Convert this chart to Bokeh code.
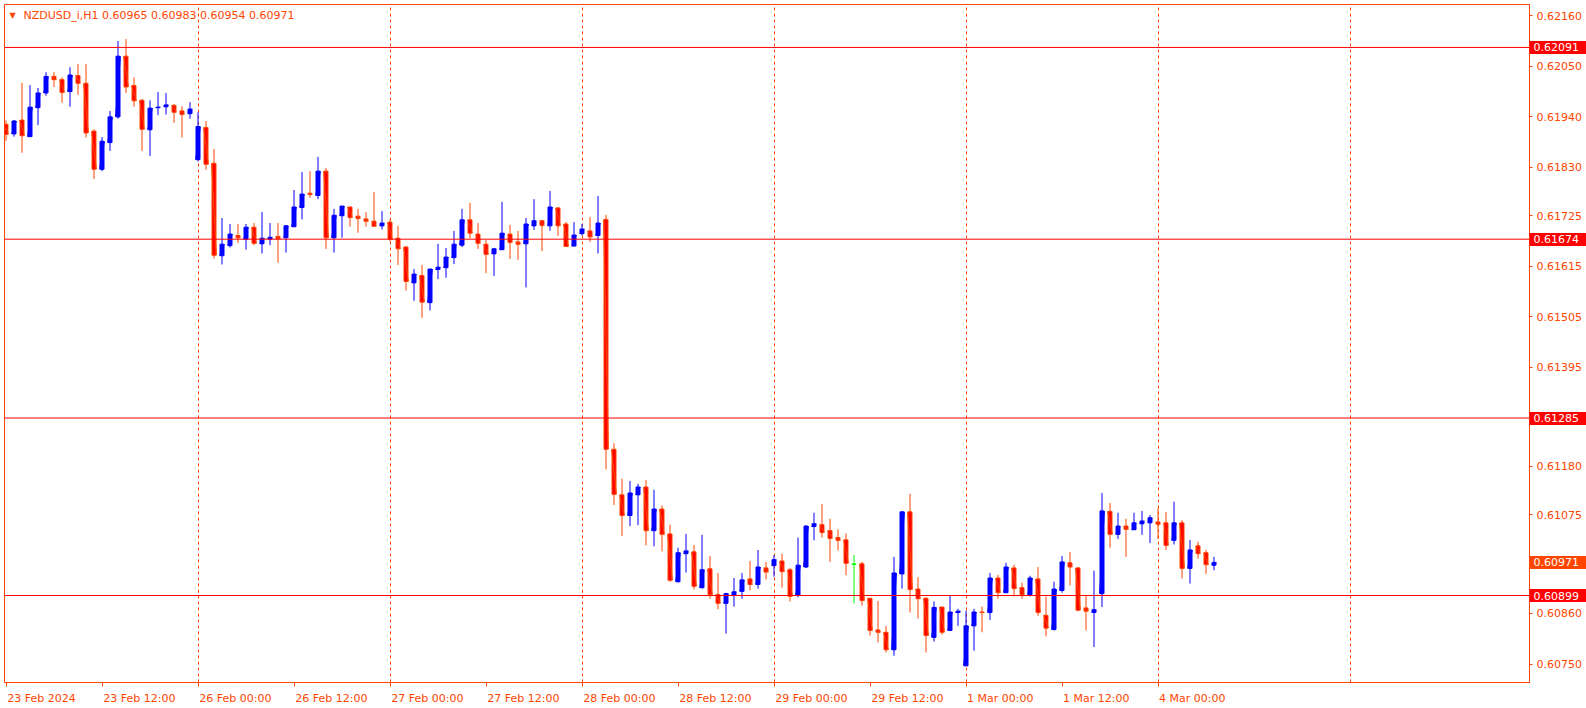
from bokeh.plotting import figure
from bokeh.models import (ColumnDataSource, FixedTicker, PrintfTickFormatter, Span, Label, Range1d,
                          LinearAxis)
from bokeh.embed import file_html
from bokeh.resources import INLINE

# ---------------- data ----------------
symbol = "NZDUSD_i,H1"

opens = [0.61924, 0.61903, 0.61933, 0.61897, 0.61960, 0.61992, 0.62028, 0.62021, 0.61995, 0.62030,
         0.62013, 0.61909, 0.61826, 0.61884, 0.61940, 0.62072, 0.62008, 0.61976, 0.61912, 0.61960,
         0.61962, 0.61965, 0.61953, 0.61947, 0.61847, 0.61917, 0.61839, 0.61638, 0.61660, 0.61682,
         0.61674, 0.61700, 0.61664, 0.61674, 0.61680, 0.61677, 0.61701, 0.61743, 0.61774, 0.61769,
         0.61822, 0.61677, 0.61725, 0.61744, 0.61724, 0.61718, 0.61713, 0.61703, 0.61711, 0.61676,
         0.61657, 0.61579, 0.61595, 0.61536, 0.61608, 0.61612, 0.61634, 0.61661, 0.61716, 0.61685,
         0.61663, 0.61642, 0.61651, 0.61685, 0.61668, 0.61664, 0.61703, 0.61714, 0.61703, 0.61742,
         0.61707, 0.61659, 0.61686, 0.61692, 0.61682, 0.61717, 0.61217, 0.61118, 0.61073, 0.61118,
         0.61135, 0.61040, 0.61087, 0.61033, 0.60929, 0.60990, 0.60994, 0.60916, 0.60957, 0.60901,
         0.60882, 0.60899, 0.60908, 0.60935, 0.60923, 0.60959, 0.60964, 0.60974, 0.60955, 0.60899,
         0.60961, 0.61049, 0.61053, 0.61040, 0.61025, 0.61020, 0.60967, 0.60968, 0.60893, 0.60824,
         0.60819, 0.60781, 0.60946, 0.61081, 0.60913, 0.60893, 0.60808, 0.60874, 0.60823, 0.60862,
         0.60746, 0.60833, 0.60863, 0.60862, 0.60937, 0.60905, 0.60959, 0.60916, 0.60901, 0.60935,
         0.60856, 0.60825, 0.60910, 0.60970, 0.60959, 0.60872, 0.60862, 0.60903, 0.61082, 0.61032,
         0.61050, 0.61042, 0.61055, 0.61057, 0.61059, 0.61057, 0.61019, 0.61057, 0.60958, 0.61007,
         0.60992, 0.60965]
highs = [0.61932, 0.61933, 0.62014, 0.62009, 0.62003, 0.62037, 0.62037, 0.62026, 0.62048, 0.62055,
         0.62055, 0.61913, 0.61896, 0.61953, 0.62105, 0.62109, 0.62026, 0.61979, 0.61976, 0.61994,
         0.61992, 0.61968, 0.61963, 0.61972, 0.61950, 0.61931, 0.61870, 0.61720, 0.61707, 0.61707,
         0.61707, 0.61709, 0.61733, 0.61709, 0.61709, 0.61705, 0.61781, 0.61820, 0.61822, 0.61853,
         0.61829, 0.61740, 0.61746, 0.61744, 0.61740, 0.61733, 0.61777, 0.61735, 0.61717, 0.61703,
         0.61659, 0.61609, 0.61618, 0.61609, 0.61664, 0.61655, 0.61692, 0.61740, 0.61753, 0.61709,
         0.61672, 0.61655, 0.61755, 0.61705, 0.61692, 0.61720, 0.61761, 0.61716, 0.61779, 0.61744,
         0.61711, 0.61711, 0.61707, 0.61722, 0.61768, 0.61727, 0.61230, 0.61153, 0.61148, 0.61142,
         0.61150, 0.61129, 0.61095, 0.61053, 0.61003, 0.61033, 0.61009, 0.61031, 0.60985, 0.60948,
         0.60905, 0.60937, 0.60948, 0.60974, 0.60998, 0.60972, 0.60987, 0.60990, 0.60959, 0.61025,
         0.61052, 0.61079, 0.61098, 0.61066, 0.61043, 0.61034, 0.60987, 0.60972, 0.60893, 0.60887,
         0.60833, 0.60983, 0.61081, 0.61120, 0.60939, 0.60895, 0.60886, 0.60874, 0.60898, 0.60870,
         0.60866, 0.60870, 0.60875, 0.60948, 0.60944, 0.60970, 0.60966, 0.60927, 0.60942, 0.60961,
         0.60897, 0.60929, 0.60985, 0.60994, 0.60961, 0.60898, 0.60953, 0.61122, 0.61100, 0.61079,
         0.61066, 0.61079, 0.61083, 0.61074, 0.61089, 0.61081, 0.61103, 0.61063, 0.61020, 0.61016,
         0.60998, 0.60983]
lows = [0.61888, 0.61897, 0.61862, 0.61897, 0.61922, 0.61986, 0.62005, 0.61971, 0.61962, 0.61988,
        0.61895, 0.61805, 0.61822, 0.61866, 0.61936, 0.61992, 0.61962, 0.61866, 0.61855, 0.61944,
        0.61945, 0.61927, 0.61895, 0.61936, 0.61843, 0.61825, 0.61632, 0.61619, 0.61656, 0.61666,
        0.61651, 0.61661, 0.61643, 0.61661, 0.61623, 0.61645, 0.61701, 0.61717, 0.61764, 0.61761,
        0.61653, 0.61645, 0.61677, 0.61701, 0.61688, 0.61701, 0.61701, 0.61695, 0.61669, 0.61618,
        0.61562, 0.61540, 0.61503, 0.61519, 0.61587, 0.61590, 0.61620, 0.61657, 0.61676, 0.61653,
        0.61600, 0.61594, 0.61651, 0.61631, 0.61629, 0.61569, 0.61694, 0.61648, 0.61692, 0.61681,
        0.61658, 0.61659, 0.61682, 0.61668, 0.61643, 0.61173, 0.61096, 0.61028, 0.61050, 0.61052,
        0.61008, 0.61006, 0.60995, 0.60929, 0.60927, 0.60949, 0.60912, 0.60914, 0.60892, 0.60869,
        0.60816, 0.60875, 0.60892, 0.60910, 0.60914, 0.60934, 0.60940, 0.60916, 0.60886, 0.60895,
        0.60959, 0.61019, 0.61025, 0.60972, 0.60997, 0.60943, 0.60882, 0.60877, 0.60812, 0.60797,
        0.60775, 0.60768, 0.60914, 0.60862, 0.60849, 0.60775, 0.60799, 0.60814, 0.60823, 0.60833,
        0.60746, 0.60779, 0.60819, 0.60846, 0.60892, 0.60905, 0.60897, 0.60892, 0.60897, 0.60855,
        0.60810, 0.60823, 0.60905, 0.60921, 0.60865, 0.60823, 0.60787, 0.60874, 0.61003, 0.61022,
        0.60983, 0.61042, 0.61031, 0.61013, 0.61022, 0.60998, 0.61010, 0.60936, 0.60925, 0.60979,
        0.60946, 0.60954]
closes = [0.61902, 0.61931, 0.61899, 0.61961, 0.61992, 0.62028, 0.62021, 0.61993, 0.62031, 0.62013,
          0.61905, 0.61826, 0.61887, 0.61940, 0.62072, 0.62005, 0.61975, 0.61913, 0.61959, 0.61961,
          0.61966, 0.61950, 0.61945, 0.61957, 0.61919, 0.61837, 0.61639, 0.61663, 0.61685, 0.61677,
          0.61700, 0.61665, 0.61676, 0.61678, 0.61675, 0.61703, 0.61744, 0.61772, 0.61771, 0.61822,
          0.61677, 0.61726, 0.61746, 0.61721, 0.61719, 0.61713, 0.61702, 0.61709, 0.61674, 0.61653,
          0.61582, 0.61598, 0.61537, 0.61609, 0.61613, 0.61635, 0.61663, 0.61716, 0.61687, 0.61665,
          0.61641, 0.61653, 0.61687, 0.61667, 0.61663, 0.61707, 0.61714, 0.61704, 0.61744, 0.61703,
          0.61658, 0.61683, 0.61696, 0.61679, 0.61709, 0.61217, 0.61119, 0.61073, 0.61122, 0.61135,
          0.61040, 0.61087, 0.61032, 0.60932, 0.60992, 0.60996, 0.60919, 0.60955, 0.60901, 0.60882,
          0.60903, 0.60907, 0.60933, 0.60923, 0.60961, 0.60950, 0.60977, 0.60951, 0.60897, 0.60965,
          0.61050, 0.61055, 0.61036, 0.61023, 0.61019, 0.60969, 0.60967, 0.60888, 0.60823, 0.60819,
          0.60781, 0.60948, 0.61081, 0.60912, 0.60892, 0.60812, 0.60873, 0.60819, 0.60863, 0.60865,
          0.60833, 0.60863, 0.60862, 0.60937, 0.60905, 0.60961, 0.60914, 0.60901, 0.60937, 0.60862,
          0.60828, 0.60913, 0.60972, 0.60961, 0.60867, 0.60865, 0.60868, 0.61083, 0.61032, 0.61050,
          0.61043, 0.61057, 0.61061, 0.61068, 0.61054, 0.61008, 0.61057, 0.60958, 0.60998, 0.60990,
          0.60966, 0.60971]

# bottom time-axis labels (bar index of each labelled hour)
x_tick_bars = [0, 12, 24, 36, 48, 60, 72, 84, 96, 108, 120, 132, 144]
x_tick_labels = ["23 Feb 2024", "23 Feb 12:00", "26 Feb 00:00", "26 Feb 12:00", "27 Feb 00:00",
                 "27 Feb 12:00", "28 Feb 00:00", "28 Feb 12:00", "29 Feb 00:00", "29 Feb 12:00",
                 "1 Mar 00:00", "1 Mar 12:00", "4 Mar 00:00"]

# right price-axis ticks
y_ticks = [0.62160, 0.62050, 0.61940, 0.61830, 0.61725, 0.61615, 0.61505, 0.61395,
           0.61180, 0.61075, 0.60860, 0.60750]

# horizontal price levels
level_prices = [0.62091, 0.61674, 0.61285, 0.60899]

# ---------------- styling / layout ----------------
FONT = "DejaVu Sans"
FS_PX = 11
FS = f"{FS_PX}px"
FG = "#FF4500"
BULL = "#0000FF"
BEAR = "#FF0000"
DOJI = "#00FF00"
LEVEL = "#FF0000"

W, H = 1586, 708
LEFT, TOP, RIGHT, BOTTOM = 4, 4, 57, 26
frame_w = W - LEFT - RIGHT
frame_h = H - TOP - BOTTOM
bar_px = 8.0
x_start = -0.1875
x_end = x_start + frame_w / bar_px
y_top, y_bottom = 0.621844, 0.607098

n = len(opens)
xs = list(range(n))
fill, edge = [], []
for o, c in zip(opens, closes):
    if c > o:
        fill.append(BULL); edge.append(BULL)
    elif c < o:
        fill.append(BEAR); edge.append(FG)
    else:
        fill.append(DOJI); edge.append(DOJI)

src = ColumnDataSource(dict(
    x=xs, o=opens, h=highs, l=lows, c=closes,
    top=[max(o, c) for o, c in zip(opens, closes)],
    bottom=[min(o, c) for o, c in zip(opens, closes)],
    fill=fill, edge=edge,
    dl=[x - 0.3 for x in xs], dr=[x + 0.3 for x in xs],
))

p = figure(width=W, height=H, output_backend="svg", toolbar_location=None, tools="",
           title=None, x_range=Range1d(x_start, x_end), y_range=Range1d(y_bottom, y_top),
           y_axis_location="right", x_axis_location="below",
           min_border_left=LEFT, min_border_top=TOP, min_border_right=RIGHT, min_border_bottom=BOTTOM,
           background_fill_color="white", border_fill_color="white",
           outline_line_color=FG, outline_line_width=1)

# grid: dashed vertical day separators only
p.ygrid.visible = False
p.xgrid.ticker = FixedTicker(ticks=list(range(24, int(x_end) + 1, 24)))
p.xgrid.grid_line_color = FG
p.xgrid.grid_line_dash = "3 3"
p.xgrid.grid_line_width = 1

# price level lines
for v in level_prices:
    p.add_layout(Span(location=v, dimension="width", line_color=LEVEL, line_width=1))

# candles
p.segment(x0="x", y0="l", x1="x", y1="h", line_color="edge", line_width=1, source=src)
p.vbar(x="x", width=0.5, top="top", bottom="bottom", fill_color="fill",
       line_color="edge", line_width=1, source=src)
p.segment(x0="dl", y0="o", x1="dr", y1="c", line_color="edge", line_width=1, source=src)

# bottom axis: tick marks at the labelled bars (minor ticks), labels left-aligned after them
ADV = {" ": 0.318, ":": 0.337, "F": 0.575, "e": 0.615, "b": 0.635, "M": 0.863, "a": 0.613, "r": 0.411}
def text_w(s):
    return sum(ADV.get(ch, 0.636) for ch in s) * FS_PX

centers = [round((b + (text_w(t) / 2 + 1) / bar_px) * 64) / 64 for b, t in zip(x_tick_bars, x_tick_labels)]
xa = p.xaxis[0]
xa.ticker = FixedTicker(ticks=centers, minor_ticks=x_tick_bars)
xa.major_label_overrides = {c: t for c, t in zip(centers, x_tick_labels)}
xa.major_tick_out = 0
xa.major_tick_in = 0
xa.minor_tick_out = 4
xa.minor_tick_in = 0
xa.minor_tick_line_color = FG
xa.axis_line_color = FG
xa.major_label_standoff = 5
xa.major_label_text_color = FG
xa.major_label_text_font = FONT
xa.major_label_text_font_size = FS

fmt = PrintfTickFormatter(format="%.5f")

# right scale, slot 1: price-level tags (thick red tick = tag box, white label),
# plus the small tick marks of the regular scale as minor ticks
ya = p.yaxis[0]
ya.ticker = FixedTicker(ticks=level_prices, minor_ticks=y_ticks)
ya.formatter = fmt
ya.major_tick_out = RIGHT
ya.major_tick_in = 0
ya.major_tick_line_width = 13
ya.major_tick_line_color = LEVEL
ya.minor_tick_out = 3
ya.minor_tick_in = 0
ya.minor_tick_line_color = FG
ya.minor_tick_line_width = 1
ya.axis_line_color = FG
ya.major_label_standoff = 4 - RIGHT
ya.major_label_text_color = "white"
ya.major_label_text_font = FONT
ya.major_label_text_font_size = FS

# slot 2: current price tag
cur_axis = LinearAxis(ticker=FixedTicker(ticks=[closes[-1]]), formatter=fmt,
                      major_tick_in=52, major_tick_out=5, major_tick_line_width=13,
                      major_tick_line_color=FG, minor_tick_in=0, minor_tick_out=0,
                      axis_line_color=None, major_label_standoff=-53,
                      major_label_text_color="white", major_label_text_font=FONT,
                      major_label_text_font_size=FS)
p.add_layout(cur_axis, "right")

# slot 3: regular price labels
lab_axis = LinearAxis(ticker=FixedTicker(ticks=y_ticks), formatter=fmt,
                      major_tick_in=0, major_tick_out=0, minor_tick_in=0, minor_tick_out=0,
                      axis_line_color=None, major_label_standoff=-45,
                      major_label_text_color=FG, major_label_text_font=FONT,
                      major_label_text_font_size=FS)
p.add_layout(lab_axis, "right")

# header
p.add_layout(Label(x=5, y=frame_h - 11, x_units="screen", y_units="screen", text="\u25BC",
                   text_color=FG, text_font=FONT, text_font_size="8px", text_baseline="middle"))
header = f"{symbol}  {opens[-1]:.5f} {highs[-1]:.5f} {lows[-1]:.5f} {closes[-1]:.5f}"
p.add_layout(Label(x=19, y=frame_h - 11, x_units="screen", y_units="screen", text=header,
                   text_color=FG, text_font=FONT, text_font_size=FS, text_baseline="middle"))

open("out.html", "w").write(file_html(p, INLINE))
